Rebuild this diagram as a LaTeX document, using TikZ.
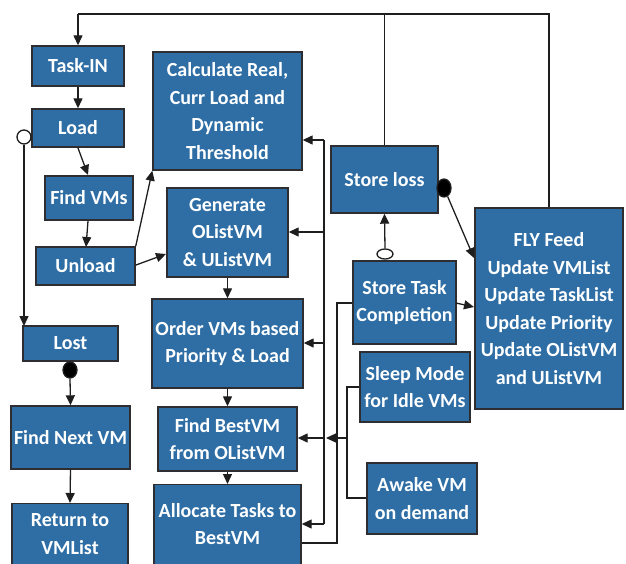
\documentclass[tikz,border=0pt]{standalone}
\usepackage{fontspec}
\setmainfont{Carlito}
\usetikzlibrary{arrows.meta,shapes.geometric}
\definecolor{boxblue}{RGB}{46,110,165}
\definecolor{boxedge}{RGB}{45,45,50}
\definecolor{linegray}{RGB}{30,30,30}
\tikzset{
  box/.style={draw=boxedge, line width=1.4pt, fill=boxblue, text=white,
    font=\bfseries\fontsize{20}{27.5}\selectfont, align=center, inner sep=0pt},
  boxtext/.style={text=white, font=\bfseries\fontsize{20}{27.5}\selectfont, align=center, inner sep=0pt},
  conn/.style={draw=linegray, line width=1.3pt},
  arr/.style={conn, -{Triangle[length=10pt,width=9pt]}},
  hollowdot/.style={draw=linegray, line width=1.3pt, fill=white, ellipse, inner sep=0pt},
  filldot/.style={draw=linegray, line width=1.3pt, fill=black, ellipse, inner sep=0pt}
}
\begin{document}
\begin{tikzpicture}[x=1pt,y=-1pt]
\useasboundingbox (0,0) rectangle (626,563);
% boxes
\node[box, minimum width=92pt, minimum height=40pt] (taskin) at (78,66) {Task-IN};
\node[box, minimum width=92pt, minimum height=38pt] (load) at (78,128) {Load};
\node[box, minimum width=88pt, minimum height=44pt] (findvms) at (89,198) {Find VMs};
\node[box, minimum width=99pt, minimum height=38pt] (unload) at (85.5,266) {Unload};
\node[box, minimum width=149pt, minimum height=118pt] (calc) at (227.5,111) {Calculate Real,\\Curr Load and\\Dynamic\\Threshold};
\node[box, minimum width=121pt, minimum height=89pt] (gen) at (227.5,232.5) {Generate\\OListVM\\\& UListVM};
\node[box, minimum width=151pt, minimum height=89pt] (order) at (227.5,343.5) {Order VMs based\\Priority \& Load};
\node[box, minimum width=139pt, minimum height=64pt] (best) at (227.5,439) {Find BestVM\\from OListVM};
\node[box, minimum width=147pt, minimum height=100pt, anchor=north] (alloc) at (227.5,484) {};
\node[boxtext] (alloctext) at (227.5,524) {Allocate Tasks to\\BestVM};
\node[box, minimum width=95pt, minimum height=35pt] (lost) at (70.5,343.5) {Lost};
\node[box, minimum width=119pt, minimum height=63pt] (nextvm) at (70.5,437.5) {Find Next VM};
\node[box, minimum width=116pt, minimum height=100pt, anchor=north] (ret) at (70,503) {};
\node[boxtext] (rettext) at (70,534) {Return to\\VMList};
\node[box, minimum width=107pt, minimum height=67pt] (storeloss) at (384.5,179.5) {Store loss};
\node[box, minimum width=148pt, minimum height=201pt] (fly) at (549,308.5) {FLY Feed\\Update VMList\\Update TaskList\\Update Priority\\Update OListVM\\and UListVM};
\node[box, minimum width=103pt, minimum height=83pt] (storetask) at (404.5,302.5) {Store Task\\Completion};
\node[box, minimum width=110pt, minimum height=70pt] (sleep) at (415,387) {Sleep Mode\\for Idle VMs};
\node[box, minimum width=110pt, minimum height=71pt] (awake) at (422,498.5) {Awake VM\\on demand};
% markers
\node[hollowdot, minimum width=14pt, minimum height=14pt] (lcirc) at (24,137) {};
\node[filldot, minimum width=14pt, minimum height=16pt] (lostdot) at (70,370) {};
\node[filldot, minimum width=14pt, minimum height=18pt] (sldot) at (444,188) {};
\node[hollowdot, minimum width=16pt, minimum height=10pt] (stcirc) at (385,254) {};
% coordinates
\coordinate (top1) at (78,14);
\coordinate (top2) at (384.5,14);
\coordinate (top3) at (549,14);
\coordinate (busT) at (324,140);
\coordinate (busB) at (324,524);
\coordinate (bus2) at (324,232);
\coordinate (bus3) at (324,343);
\coordinate (b2a) at (337,543);
\coordinate (b2b) at (337,303);
\coordinate (s1) at (347,387);
\coordinate (s2) at (347,498);
\coordinate (s3) at (347,438);
\coordinate (s4) at (324,438);
\coordinate (s5) at (326,438);
\coordinate (lm1) at (78,148);
\coordinate (fv1) at (88,175);
\coordinate (fv2) at (88,221);
\coordinate (ul1) at (86,247);
\coordinate (ul2) at (136,265);
\coordinate (gn1) at (166,254);
\coordinate (lostin) at (24,326);
\coordinate (flyin) at (474,258);
\coordinate (st1) at (456,303);
\coordinate (fly1) at (474,307);
% top feedback
\draw[conn] (storeloss.north) -- (top2);
\draw[conn] (fly.north) -- (top3) -- (top1);
\draw[arr] (top1) -- (taskin.north);
% left column
\draw[arr] (taskin.south) -- (load.north);
\draw[arr] (lm1) -- (fv1);
\draw[arr] (fv2) -- (ul1);
\draw[arr] (unload.north east) -- (calc.south west);
\draw[arr] (ul2) -- (gn1);
\draw[arr] (lcirc.south) -- (lostin);
\draw[arr] (lostdot.south) -- (nextvm.north);
\draw[arr] (nextvm.south) -- (ret.north);
% middle column
\draw[arr] (gen.south) -- (order.north);
\draw[arr] (order.south) -- (best.north);
\draw[arr] (best.south) -- (alloc.north);
% bus
\draw[conn] (busT) -- (busB);
\draw[arr] (busT) -- (calc.east |- busT);
\draw[arr] (bus2) -- (gen.east |- bus2);
\draw[arr] (bus3) -- (order.east |- bus3);
\draw[arr] (busB) -- (alloc.east |- busB);
% allocate to store task
\draw[conn] (alloc.east |- b2a) -- (b2a) -- (b2b) -- (storetask.west |- b2b);
% sleep / awake
\draw[conn] (sleep.west |- s1) -- (s1) -- (s2) -- (awake.west |- s2);
\draw[arr] (s3) -- (s5);
\draw[arr] (s4) -- (best.east |- s4);
% store task / loss / fly
\draw[arr] (stcirc.north) -- (storeloss.south);
\draw[arr] (sldot) -- (flyin);
\draw[arr] (st1) -- (fly1);
\end{tikzpicture}
\end{document}
